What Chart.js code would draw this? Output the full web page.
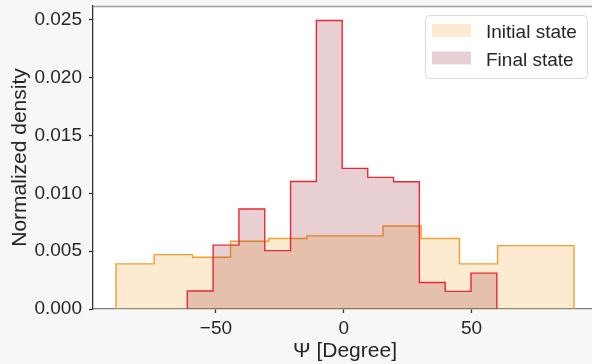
<!DOCTYPE html>
<html>
<head>
<meta charset="utf-8">
<script src="https://cdn.jsdelivr.net/npm/chart.js@4.4.1/dist/chart.umd.min.js"></script>
<style>
  html, body { margin: 0; padding: 0; background: #f7f7f7; overflow: hidden; width: 592px; height: 364px; }
  #wrap { width: 600px; height: 364px; }
</style>
</head>
<body>
<div id="wrap"><canvas id="hist" width="600" height="364"></canvas></div>
<script>
// Histogram bin edges (degrees) and normalized densities
const initialEdges = [-89.1, -74.2, -59.2, -44.3, -29.4, -14.4, 0.5, 15.4, 30.3, 45.3, 60.2, 75.1, 90.1];
const initialDensity = [0.0039, 0.0047, 0.00448, 0.00586, 0.00609, 0.00632, 0.00632, 0.00718, 0.00609, 0.0039, 0.00548, 0.00548];

const finalEdges = [-61.2, -51.1, -41.0, -30.9, -20.8, -10.7, -0.6, 9.4, 19.5, 29.6, 39.7, 49.8, 59.9];
const finalDensity = [0.00155, 0.00552, 0.00865, 0.00505, 0.01103, 0.02494, 0.01216, 0.01138, 0.0110, 0.00229, 0.00152, 0.0031];

const seriesLabels = ['Initial state', 'Final state'];
const xTickValues = [-50, 0, 50];
const yTickValues = [0, 0.005, 0.010, 0.015, 0.020, 0.025];

const FONT = "'Liberation Sans', Arial, sans-serif";
const TEXT = '#262626';

// Outline of a step histogram: rise at the first edge, one point per bin, drop at the last edge
function stepOutline(edges, heights) {
  const pts = [{ x: edges[0], y: 0 }];
  heights.forEach((h, i) => pts.push({ x: edges[i], y: h }));
  pts.push({ x: edges[edges.length - 1], y: 0 });
  return pts;
}

// White axes background and the light top spine
const frame = {
  id: 'frame',
  beforeDraw(chart) {
    const { ctx, chartArea: a } = chart;
    ctx.save();
    ctx.fillStyle = '#ffffff';
    ctx.fillRect(a.left, a.top, a.right - a.left, a.bottom - a.top);
    ctx.restore();
  },
  afterDatasetsDraw(chart) {
    const { ctx, chartArea: a } = chart;
    ctx.save();
    ctx.strokeStyle = '#9a9a9a';
    ctx.lineWidth = 1.3;
    ctx.beginPath();
    ctx.moveTo(a.left, a.top + 0.5);
    ctx.lineTo(a.right, a.top + 0.5);
    ctx.stroke();
    ctx.restore();
  }
};

// Framed legend in the upper right corner of the axes
const legendBox = {
  id: 'legendBox',
  afterDraw(chart) {
    const { ctx, chartArea: a } = chart;
    const right = 587, left = right - 162, top = a.top + 9, h = 63;
    ctx.save();
    ctx.beginPath();
    ctx.roundRect(left + 0.5, top + 0.5, right - left, h, 4);
    ctx.fillStyle = 'rgba(255,255,255,0.85)';
    ctx.fill();
    ctx.strokeStyle = '#dadada';
    ctx.lineWidth = 1;
    ctx.stroke();
    ctx.font = '19px ' + FONT;
    ctx.textBaseline = 'alphabetic';
    ctx.textAlign = 'left';
    chart.data.datasets.forEach((ds, i) => {
      const y = top + 9 + i * 27.5;
      ctx.fillStyle = ds.backgroundColor;
      ctx.fillRect(left + 7, y, 39, 13);
      ctx.fillStyle = TEXT;
      ctx.fillText(ds.label, left + 61, y + 14);
    });
    ctx.restore();
  }
};

new Chart(document.getElementById('hist'), {
  type: 'line',
  data: {
    datasets: [
      {
        label: seriesLabels[0],
        data: stepOutline(initialEdges, initialDensity),
        borderColor: '#f0a030',
        backgroundColor: 'rgba(242,162,40,0.22)',
        borderWidth: 1.4,
        fill: 'origin',
        stepped: true,
        order: 2
      },
      {
        label: seriesLabels[1],
        data: stepOutline(finalEdges, finalDensity),
        borderColor: '#e8283a',
        backgroundColor: 'rgba(140,20,30,0.2)',
        borderWidth: 1.4,
        fill: 'origin',
        stepped: true,
        order: 1
      }
    ]
  },
  options: {
    responsive: false,
    animation: false,
    devicePixelRatio: 1,
    layout: { padding: { top: 6, right: 3, left: 0, bottom: 0 } },
    elements: { point: { radius: 0, hoverRadius: 0 }, line: { tension: 0 } },
    plugins: { legend: { display: false }, tooltip: { enabled: false } },
    events: [],
    scales: {
      x: {
        type: 'linear',
        min: -98.1,
        max: 99.1,
        afterBuildTicks: s => { s.ticks = xTickValues.map(v => ({ value: v })); },
        afterFit: s => { s.height = 55; s.paddingLeft = 0; s.paddingRight = 0; },
        grid: { drawOnChartArea: false, drawTicks: true, tickLength: 4, tickColor: '#333', tickWidth: 1.3 },
        border: { display: true, color: '#808080', width: 1.3 },
        ticks: {
          font: { family: FONT, size: 19 },
          color: TEXT,
          padding: 4,
          maxRotation: 0,
          callback: v => (v < 0 ? '\u2212' + Math.abs(v) : String(v))
        },
        title: { display: true, text: 'Ψ [Degree]', font: { family: FONT, size: 21 }, color: TEXT, padding: { top: 0, bottom: 0 } }
      },
      y: {
        type: 'linear',
        min: 0,
        max: 0.0262,
        afterBuildTicks: s => { s.ticks = yTickValues.map(v => ({ value: v })); },
        afterFit: s => { s.width = 93; s.paddingTop = 0; s.paddingBottom = 0; },
        grid: { drawOnChartArea: false, drawTicks: true, tickLength: 4, tickColor: '#333', tickWidth: 1.3 },
        border: { display: true, color: '#333', width: 1.3 },
        ticks: {
          font: { family: FONT, size: 19 },
          color: TEXT,
          padding: 7,
          callback: v => v.toFixed(3)
        },
        title: { display: true, text: 'Normalized density', font: { family: FONT, size: 21 }, color: TEXT, padding: { top: 8, bottom: 0 } }
      }
    }
  },
  plugins: [frame, legendBox]
});
</script>
</body>
</html>
